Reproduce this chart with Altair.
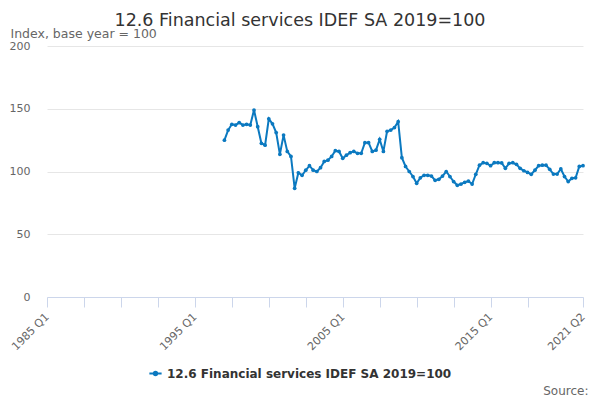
import pandas as pd
import altair as alt

# Datos trimestrales: 1997 Q1 a 2021 Q2
series_name = "12.6 Financial services IDEF SA 2019=100"
first_year = 1997
values = [
    125, 133, 137.6, 137, 139, 137, 137.6, 137, 149, 135.7,
    122.5, 121, 142, 138, 131, 113.7, 129, 116, 112, 86.6,
    99, 97, 101, 104.6, 101, 100, 103, 108, 109, 112,
    116.6, 116, 110.5, 113, 115, 116, 114.5, 114.5, 123, 123,
    116, 117, 125.6, 116, 132, 133, 135, 139.7, 111, 104,
    100, 96, 90.6, 95, 97, 97, 96.4, 93, 93.8, 96.4,
    100, 96, 92, 89, 90, 91.4, 92.4, 90, 97.8, 105,
    107, 106.5, 104.6, 107, 107, 106.8, 102.5, 106.5, 107, 105.7,
    102.5, 100.6, 99.3, 97.8, 101, 104.6, 105, 105, 101.7, 98,
    98, 102, 96, 92, 94.6, 95, 104, 104.6,
]

# Etiquetas del eje x (índice de trimestre desde 1985 Q1)
tick_values = [0, 10, 20, 30, 40, 50, 60, 70, 80, 90, 100, 110, 120, 130, 145]
tick_labels = {0: "1985 Q1", 40: "1995 Q1", 80: "2005 Q1", 120: "2015 Q1", 145: "2021 Q2"}

start_idx = (first_year - 1985) * 4
df = pd.DataFrame({
    "q": [start_idx + i for i in range(len(values))],
    "value": values,
    "series": series_name,
})
df["label"] = [f"{1985 + q // 4} Q{q % 4 + 1}" for q in df["q"]]

label_expr = " : ".join(
    f"datum.value == {k} ? '{v}'" for k, v in tick_labels.items()
) + " : ''"

line_color = "#0b79c0"
legend_symbol = "M-1,0L1,0M-0.3,0A0.3,0.3 0 1,1 0.3,0A0.3,0.3 0 1,1 -0.3,0Z"

base = alt.Chart(df).encode(
    x=alt.X(
        "q:Q",
        scale=alt.Scale(domain=[0, 145], nice=False, zero=False),
        axis=alt.Axis(
            values=tick_values, labelExpr=label_expr, labelAngle=-45,
            labelAlign="right", labelBaseline="middle", labelFontSize=11,
            labelColor="#666666", labelFont="DejaVu Sans", labelPadding=8,
            domainColor="#ccd6eb", tickColor="#ccd6eb", tickSize=10,
            grid=False, labelOverlap=False, labelFlush=False,
            title="Source:", titleFont="DejaVu Sans", titleFontSize=12,
            titleFontWeight="normal", titleColor="#666666",
            titleAnchor="end", titleAlign="right", titleX=541, titleY=97,
            titleBaseline="alphabetic",
        ),
    ),
    y=alt.Y(
        "value:Q",
        scale=alt.Scale(domain=[0, 200], nice=False),
        axis=alt.Axis(
            values=[0, 50, 100, 150, 200], labelFontSize=11, labelColor="#666666",
            labelFont="DejaVu Sans", domain=False, ticks=False, labelPadding=17,
            gridColor="#e6e6e6", title="Index, base year = 100",
            titleAngle=0, titleAlign="left", titleBaseline="alphabetic",
            titleX=-37, titleY=-9, titleFont="DejaVu Sans", titleFontSize=12.5,
            titleFontWeight="normal", titleColor="#666666",
        ),
    ),
    color=alt.Color(
        "series:N",
        scale=alt.Scale(range=[line_color]),
        legend=alt.Legend(
            title=None, orient="none", legendX=101, legendY=320,
            symbolType=legend_symbol, symbolSize=150, symbolStrokeWidth=2,
            symbolFillColor=line_color, labelFont="DejaVu Sans", labelLimit=0,
            labelFontSize=12, labelFontWeight="bold", labelColor="#333333",
        ),
    ),
    tooltip=["label:N", "value:Q"],
)

line = base.mark_line(strokeWidth=2)
points = base.mark_point(filled=True, size=14, opacity=1)

chart = (line + points).properties(
    width=536,
    height=251,
    padding={"left": 39, "top": 38, "right": 9, "bottom": 103},
    autosize=alt.AutoSizeParams(type="none"),
    title=alt.TitleParams(
        series_name, font="DejaVu Sans", fontSize=17.5, fontWeight="normal",
        color="#333333", anchor="middle", dx=-15, dy=2, offset=0,
    ),
).configure_view(stroke=None)

chart.save("out.html", embed_options={"renderer": "svg", "actions": False})
